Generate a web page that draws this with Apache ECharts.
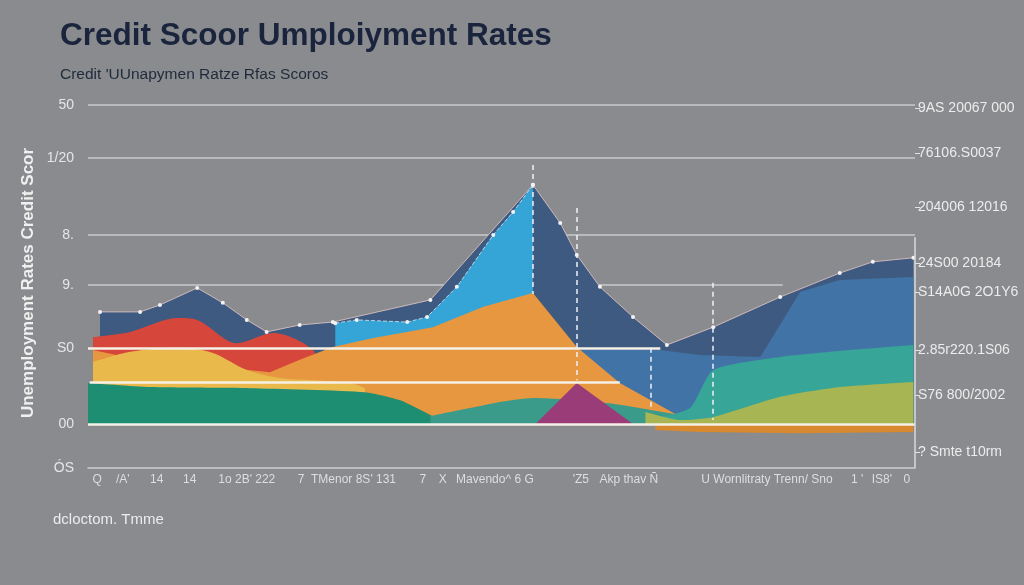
<!DOCTYPE html>
<html>
<head>
<meta charset="utf-8">
<script src="https://cdn.jsdelivr.net/npm/echarts@6/dist/echarts.min.js"></script>
<style>
html,body{margin:0;padding:0;background:#898b8e;}
#chart{width:1024px;height:585px;}
</style>
</head>
<body>
<div id="chart"></div>
<script>
// ---- tick labels ----
const xLabelPos = [1.1, 4.2, 8.3, 12.3, 19.2, 31.3, 40.5, 42.9, 49.2, 59.6, 65.4, 82.1, 93.0, 96.0, 99.0];
const xLabels = ["Q", "/A'", "14", "14", "1o 2B' 222", "7  TMenor 8S' 131", "7", "X", "Mavendo^ 6 G", "'Z5", "Akp thav Ñ", "U Wornlitraty Trenn/ Sno", "1 '", "IS8'", "0"];
const leftTickVals = [100, 85.4, 64.2, 50.4, 33.1, 12.1, 0];
const leftTickLabels = ["50", "1/20", "8.", "9.", "S0", "00", "ÓS"];
const rightTickVals = [99.2, 86.8, 71.9, 56.5, 48.5, 32.5, 20.1, 4.4];
const rightTickLabels = ["9AS 20067 000", "76106.S0037", "204006 12016", "24S00 20184", "S14A0G 2O1Y6", "2.85r220.1S06", "S76 800/2002", "? Smte t10rm"];

// ---- series values [time, level] ----
const slateVals = [[1.45,43.0],[6.3,43.0],[8.7,44.9],[13.2,49.6],[16.3,45.5],[19.2,40.8],[21.6,37.5],[25.6,39.4],[29.6,40.2],[41.4,46.3],[53.8,78.0],[57.1,67.5],[59.1,58.7],[61.9,49.9],[65.9,41.6],[70.0,33.9],[75.6,38.8],[83.7,47.1],[90.9,53.7],[94.9,56.8],[99.8,57.9]];
const steelVals = [[59.5,32.5],[64.3,32.5],[69.2,32.5],[74.0,31.1],[81.3,30.6],[86.1,48.5],[90.9,51.8],[99.8,52.6]];
const lightBlueVals = [[29.9,39.9],[32.5,40.8],[38.6,40.2],[41.0,41.6],[44.6,49.9],[49.0,64.2],[51.4,70.5],[53.8,78.0]];
const redVals = [[0.6,36.1],[5.1,37.5],[10.8,41.3],[13.2,40.8],[18.0,34.4],[22.4,37.2],[27.2,32.5],[28.1,25.6]];
const orangeVals = [[0.6,32.5],[5.1,30.3],[13.5,28.4],[22.0,26.4],[25.6,29.8],[29.6,33.3],[34.5,35.8],[41.7,38.8],[47.8,44.4],[53.8,48.2],[59.1,33.3],[64.3,23.4],[68.0,18.7],[71.6,14.1],[74.0,12.1]];
const yellowVals = [[0.6,29.2],[5.1,32.0],[11.1,33.1],[15.1,31.7],[19.2,27.0],[23.2,24.8],[27.2,24.2],[31.7,23.4],[33.5,22.0]];
const greenVals = [[0,23.4],[7.5,22.3],[19.6,22.0],[33.5,20.9],[37.7,18.7],[42.6,13.2],[43.8,12.1]];
const tealVals = [[41.4,14.3],[46.2,16.5],[49.8,18.2],[53.8,19.3],[59.5,18.7],[64.3,17.4],[68.0,16.0],[71.6,14.6],[74.0,13.8]];
const magentaVals = [[54.1,12.1],[59.1,23.4],[65.9,12.1]];
const seaVals = [[68.9,13.8],[72.8,16.5],[75.6,27.0],[83.7,30.6],[92.1,32.5],[99.8,33.9]];
const oliveVals = [[67.4,15.4],[71.6,13.2],[75.6,14.0],[83.7,19.6],[90.9,22.3],[99.8,23.7]];
const stripVals = [[68.6,10.5],[74.0,9.9],[86.1,9.6],[99.8,9.9]];

// ---- reference levels ----
const baseLevel = 12.1;
const grayLevels = [[100, 0, 100], [85.4, 0, 100], [64.2, 0, 100], [50.4, 0, 84]];
const brightLevels = [[33.1, 0, 69.2], [23.7, 0.2, 64.3], [12.1, 0, 100]];
const dashedMarks = [[53.8, 83.5, 47.9], [59.1, 71.6, 24.2], [68.1, 33.1, 16.5], [75.6, 51.0, 13.2]];
const rightRule = [100, 63.6, 0];

function pick(vals, labels) {
  return function (v) {
    const i = vals.findIndex(t => Math.abs(t - v) < 1e-6);
    return i >= 0 ? labels[i] : '';
  };
}

function area(name, data, color, opts) {
  return Object.assign({
    name: name, type: 'line', data: data, z: 2,
    symbol: 'none', silent: true,
    lineStyle: { width: 0, color: color },
    itemStyle: { color: color },
    areaStyle: { color: color, opacity: 1, origin: baseLevel }
  }, opts || {});
}

const font = 'Liberation Sans';
const chart = echarts.init(document.getElementById('chart'), null, { renderer: 'canvas' });

const series = [
  {
    name: 'grid', type: 'line', data: [], z: 1, silent: true,
    markLine: {
      z: 1, silent: true, symbol: 'none', label: { show: false },
      lineStyle: { color: '#c9cacc', width: 1.5, type: 'solid' },
      data: grayLevels.map(g => [{ coord: [g[1], g[0]] }, { coord: [g[2], g[0]] }])
    }
  },
  area('slate', slateVals, '#3e5a80', {
    symbol: 'circle', symbolSize: 4, showSymbol: true,
    lineStyle: { width: 1, color: 'rgba(225,195,195,0.85)' },
    itemStyle: { color: '#f2f2f2' }
  }),
  area('steel', steelVals, '#4273a6'),
  area('lightBlue', lightBlueVals, '#35a5d8', {
    symbol: 'circle', symbolSize: 4, showSymbol: true,
    lineStyle: { width: 1, color: 'rgba(215,232,245,0.8)', type: 'dashed' },
    itemStyle: { color: '#f2f2f2' }
  }),
  area('red', redVals, '#d6463a', { smooth: 0.3 }),
  area('orange', orangeVals, '#e7973f'),
  area('yellow', yellowVals, '#e9b94c', { smooth: 0.3 }),
  area('green', greenVals, '#1e8e73', { smooth: 0.2 }),
  area('teal', tealVals, '#3a9b8a', { smooth: 0.2 }),
  area('magenta', magentaVals, '#9a3c77'),
  area('sea', seaVals, '#37a597', { smooth: 0.2 }),
  area('olive', oliveVals, '#a7b552', { smooth: 0.2 }),
  area('strip', stripVals, '#d8892f', {
    markLine: {
      silent: true, symbol: 'none', label: { show: false },
      data: brightLevels.map(b => [
        { coord: [b[1], b[0]], lineStyle: { color: '#f5f1e6', width: 2.5, type: 'solid' } },
        { coord: [b[2], b[0]] }
      ]).concat(dashedMarks.map(d => [
        { coord: [d[0], d[1]], lineStyle: { color: '#eef2f6', width: 1.5, type: [5, 4] } },
        { coord: [d[0], d[2]] }
      ])).concat([[
        { coord: [rightRule[0], rightRule[1]], lineStyle: { color: '#d8dadc', width: 1.5, type: 'solid' } },
        { coord: [rightRule[0], rightRule[2]] }
      ]])
    }
  })
];

chart.setOption({
  backgroundColor: '#898b8e',
  animation: false,
  title: [
    { text: 'Credit Scoor Umploiyment Rates', left: 55, top: 15,
      textStyle: { fontFamily: font, fontSize: 31.5, fontWeight: 'bold', color: '#1a243d' } },
    { text: "Credit 'UUnapymen Ratze Rfas Scoros", left: 55, top: 62,
      textStyle: { fontFamily: font, fontSize: 15.5, fontWeight: 'normal', color: '#1f2a3a' } }
  ],
  grid: { left: 88, right: 109, top: 105, bottom: 117 },
  xAxis: {
    type: 'value', min: 0, max: 100,
    axisLine: { show: true, lineStyle: { color: '#cfd0d2', width: 1.5 } },
    axisTick: { show: false },
    splitLine: { show: false },
    axisLabel: { customValues: xLabelPos, formatter: pick(xLabelPos, xLabels),
      color: '#dedede', fontSize: 12, fontFamily: font, margin: 6 }
  },
  yAxis: [
    {
      type: 'value', min: 0, max: 100,
      axisLine: { show: false }, axisTick: { show: false }, splitLine: { show: false },
      axisLabel: { customValues: leftTickVals, formatter: pick(leftTickVals, leftTickLabels),
        color: '#e6e6e6', fontSize: 14, fontFamily: font, margin: 14 }
    },
    {
      type: 'value', min: 0, max: 100, position: 'right',
      axisLine: { show: false },
      axisTick: { show: true, customValues: rightTickVals, length: 5, lineStyle: { color: '#e2e2e2' } },
      splitLine: { show: false },
      axisLabel: { customValues: rightTickVals, formatter: pick(rightTickVals, rightTickLabels),
        color: '#ececec', fontSize: 14, fontFamily: font, margin: 3 }
    }
  ],
  graphic: [
    { type: 'text', x: 28, y: 283, rotation: Math.PI / 2,
      style: { text: 'Unemployment Rates Credit Scor', fill: '#f0f0f0',
        font: 'bold 17px "Liberation Sans"', align: 'center', verticalAlign: 'middle' } },
    { type: 'text', x: 53, y: 520,
      style: { text: 'dcloctom. Tmme', fill: '#ececec',
        font: '15px "Liberation Sans"', align: 'left', verticalAlign: 'middle' } }
  ],
  series: series
});
</script>
</body>
</html>
